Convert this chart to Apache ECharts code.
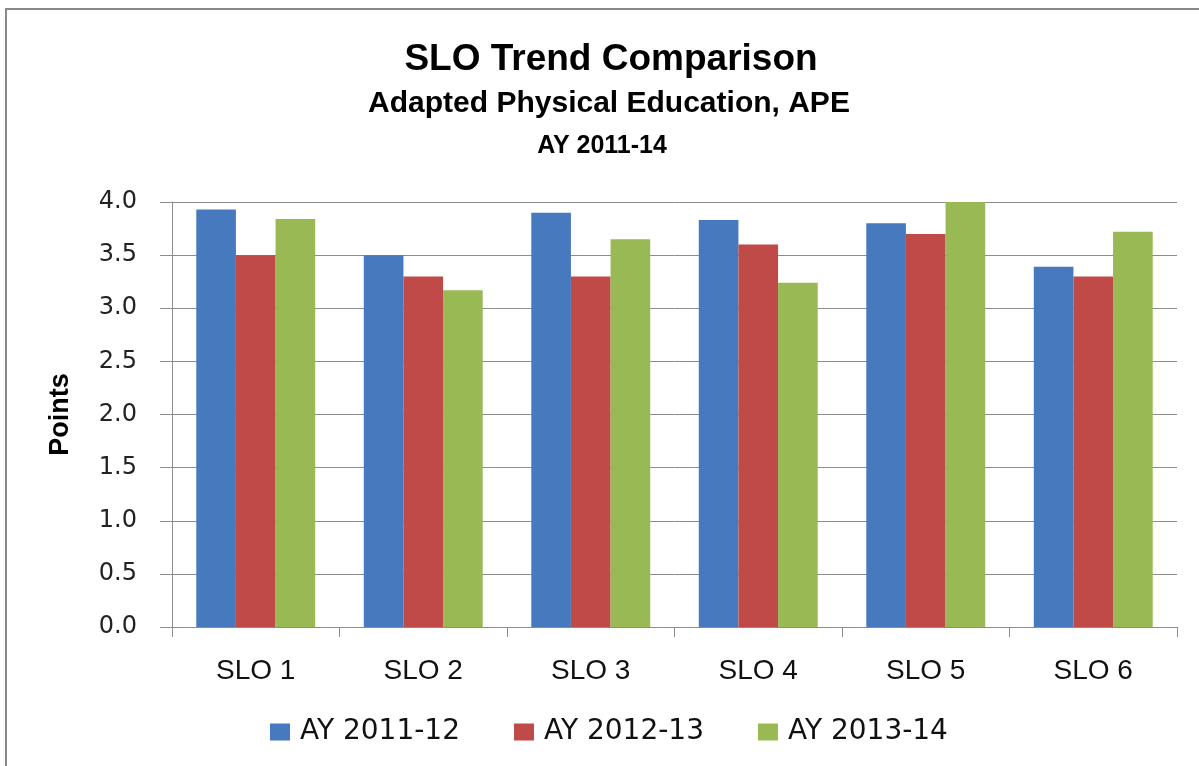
<!DOCTYPE html>
<html>
<head>
<meta charset="utf-8">
<title>SLO Trend Comparison</title>
<script src="https://cdn.jsdelivr.net/npm/echarts@6/dist/echarts.min.js"></script>
<style>
  html, body { margin: 0; padding: 0; background: #fff; }
  #chart { width: 1199px; height: 766px; }
</style>
</head>
<body>
<div id="chart"></div>
<script>
// categories and series values
const categories = ['SLO 1', 'SLO 2', 'SLO 3', 'SLO 4', 'SLO 5', 'SLO 6'];
const seriesNames = ['AY 2011-12', 'AY 2012-13', 'AY 2013-14'];
const ay1112 = [3.93, 3.5, 3.9, 3.83, 3.8, 3.39];
const ay1213 = [3.5, 3.3, 3.3, 3.6, 3.7, 3.3];
const ay1314 = [3.84, 3.17, 3.65, 3.24, 4.0, 3.72];
const colors = ['#4779BF', '#C04A47', '#98B954'];

const chart = echarts.init(document.getElementById('chart'), null, { renderer: 'canvas' });

const makeSeries = (name, data, color) => ({
    name: name,
    type: 'bar',
    data: data,
    barGap: '0%',
    barCategoryGap: '29%',
    itemStyle: { color: color },
    emphasis: { disabled: true }
});

const option = {
    backgroundColor: '#ffffff',
    animation: false,
    title: [
        {
            text: 'SLO Trend Comparison',
            left: 606, top: 36, textAlign: 'center',
            textStyle: { fontFamily: 'Liberation Sans', fontWeight: 'bold', fontSize: 37, color: '#000' }
        },
        {
            text: 'Adapted Physical Education, APE',
            left: 604, top: 84, textAlign: 'center',
            textStyle: { fontFamily: 'Liberation Sans', fontWeight: 'bold', fontSize: 30, color: '#000' }
        },
        {
            text: 'AY 2011-14',
            left: 597, top: 129, textAlign: 'center',
            textStyle: { fontFamily: 'Liberation Sans', fontWeight: 'bold', fontSize: 25, color: '#000' }
        }
    ],
    // chart frame, only top and left edges visible
    graphic: [{
        type: 'rect',
        shape: { x: 6, y: 9, width: 1400, height: 1000 },
        style: { fill: 'none', stroke: '#888888', lineWidth: 2 },
        silent: true
    }],
    legend: {
        data: seriesNames,
        left: 270,
        top: 718,
        padding: 0,
        itemWidth: 20,
        itemHeight: 17,
        itemGap: 54,
        icon: 'rect',
        textStyle: { fontFamily: 'DejaVu Sans', fontSize: 28, color: '#111', padding: [0, 0, 0, 5] }
    },
    grid: { left: 172, right: 22, top: 202, bottom: 139, containLabel: false },
    xAxis: {
        type: 'category',
        data: categories,
        axisLine: { lineStyle: { color: '#8c8c8c', width: 1 } },
        axisTick: { show: true, length: 10, lineStyle: { color: '#8c8c8c' } },
        axisLabel: { margin: 30, fontFamily: 'Liberation Sans', fontSize: 28, color: '#111' }
    },
    yAxis: {
        type: 'value',
        min: 0, max: 4, interval: 0.5,
        name: 'Points',
        nameLocation: 'middle',
        nameGap: 98,
        nameTextStyle: { fontFamily: 'Liberation Sans', fontWeight: 'bold', fontSize: 27, color: '#000' },
        axisLine: { show: true, lineStyle: { color: '#8c8c8c', width: 1 } },
        axisTick: { show: true, inside: false, length: 12, lineStyle: { color: '#8c8c8c' } },
        splitLine: { show: true, lineStyle: { color: '#8c8c8c', width: 1 } },
        axisLabel: {
            margin: 35,
            fontFamily: 'DejaVu Sans', fontSize: 24, color: '#222',
            formatter: v => v.toFixed(1)
        }
    },
    series: [
        makeSeries(seriesNames[0], ay1112, colors[0]),
        makeSeries(seriesNames[1], ay1213, colors[1]),
        makeSeries(seriesNames[2], ay1314, colors[2])
    ]
};

chart.setOption(option);
</script>
</body>
</html>
